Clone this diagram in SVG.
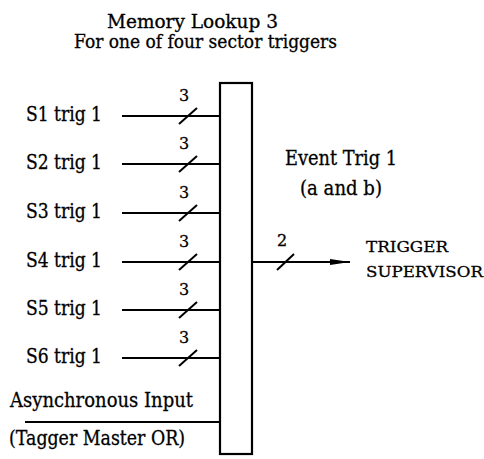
<svg xmlns="http://www.w3.org/2000/svg" width="484" height="459" viewBox="0 0 484 459" font-family="DejaVu Serif, Liberation Serif, serif">
  <style>
    text { fill: #000; stroke: #000; stroke-width: 0.3; }
    .lbl { font-size: 20px; }
    .ttl { font-size: 18px; }
    .num { font-size: 16px; }
    .sm { font-size: 15px; }
    .wire { stroke: #000; stroke-width: 2; fill: none; }
    .box { stroke: #000; stroke-width: 2.2; fill: #fff; }
  </style>
  <defs>
    <marker id="arrow" markerWidth="20" markerHeight="8" refX="20" refY="4" orient="auto" markerUnits="userSpaceOnUse">
      <path d="M0,1 L20,4 L0,7 Z" fill="#000"/>
    </marker>
  </defs>

  <rect width="484" height="459" fill="#fff"/>

  <g id="title">
    <text class="ttl" x="107" y="28" textLength="171" lengthAdjust="spacingAndGlyphs">Memory Lookup 3</text>
    <text class="ttl" x="74" y="48" textLength="263" lengthAdjust="spacingAndGlyphs">For one of four sector triggers</text>
  </g>

  <g id="connectors">
    <line class="wire" x1="122" y1="116" x2="220" y2="116"/>
    <line class="wire" x1="122" y1="164" x2="220" y2="164"/>
    <line class="wire" x1="122" y1="213" x2="220" y2="213"/>
    <line class="wire" x1="122" y1="262" x2="220" y2="262"/>
    <line class="wire" x1="122" y1="310" x2="220" y2="310"/>
    <line class="wire" x1="122" y1="358" x2="220" y2="358"/>
    <line class="wire" x1="25" y1="422" x2="220" y2="422"/>
    <line class="wire" x1="252" y1="262" x2="350" y2="262" marker-end="url(#arrow)"/>
    <!-- bus width slashes -->
    <g class="wire">
      <line x1="179" y1="124" x2="197" y2="108"/>
      <line x1="179" y1="172" x2="197" y2="156"/>
      <line x1="179" y1="221" x2="197" y2="205"/>
      <line x1="179" y1="270" x2="197" y2="254"/>
      <line x1="179" y1="318" x2="197" y2="302"/>
      <line x1="179" y1="366" x2="197" y2="350"/>
      <line x1="277" y1="270" x2="294" y2="254"/>
    </g>
    <g class="num">
      <text x="179" y="101">3</text>
      <text x="179" y="149">3</text>
      <text x="179" y="198">3</text>
      <text x="179" y="247">3</text>
      <text x="179" y="295">3</text>
      <text x="179" y="343">3</text>
      <text x="277" y="246">2</text>
    </g>
  </g>

  <g id="lookup">
    <rect class="box" x="220" y="83" width="32" height="371"/>
  </g>

  <g id="inputs">
    <text class="lbl" x="26" y="121" textLength="76" lengthAdjust="spacingAndGlyphs">S1 trig 1</text>
    <text class="lbl" x="26" y="169" textLength="76" lengthAdjust="spacingAndGlyphs">S2 trig 1</text>
    <text class="lbl" x="26" y="218" textLength="76" lengthAdjust="spacingAndGlyphs">S3 trig 1</text>
    <text class="lbl" x="26" y="267" textLength="76" lengthAdjust="spacingAndGlyphs">S4 trig 1</text>
    <text class="lbl" x="26" y="315" textLength="76" lengthAdjust="spacingAndGlyphs">S5 trig 1</text>
    <text class="lbl" x="26" y="363" textLength="76" lengthAdjust="spacingAndGlyphs">S6 trig 1</text>
  </g>

  <g id="async">
    <text class="lbl" x="10" y="407" textLength="183" lengthAdjust="spacingAndGlyphs">Asynchronous Input</text>
    <text class="lbl" x="9" y="445" textLength="176" lengthAdjust="spacingAndGlyphs">(Tagger Master OR)</text>
  </g>

  <g id="event">
    <text class="lbl" x="285" y="165" textLength="112" lengthAdjust="spacingAndGlyphs">Event Trig 1</text>
    <text class="lbl" x="300" y="195" textLength="82" lengthAdjust="spacingAndGlyphs">(a and b)</text>
  </g>

  <g id="supervisor">
    <text class="sm" x="366" y="252" textLength="82" lengthAdjust="spacingAndGlyphs">TRIGGER</text>
    <text class="sm" x="366" y="277" textLength="117" lengthAdjust="spacingAndGlyphs">SUPERVISOR</text>
  </g>
</svg>
